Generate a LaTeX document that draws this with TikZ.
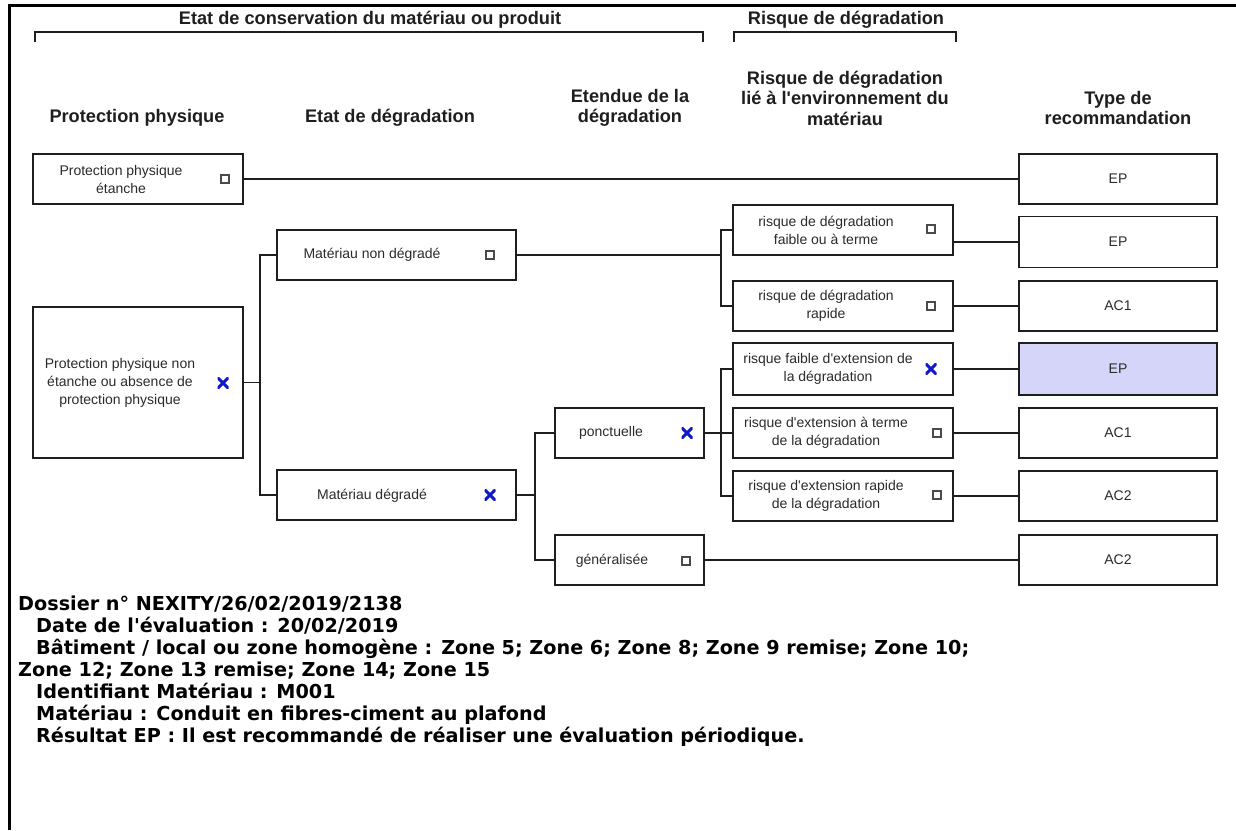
\documentclass[tikz,border=0pt]{standalone}
\usepackage{fontspec}
\setmainfont{Liberation Sans}[Ligatures=TeXOff]
\newfontfamily\infofont{DejaVu Sans}
\usepackage{tikz}
\definecolor{ink}{HTML}{1E1E1E}
\definecolor{txt}{HTML}{2A2A2A}
\definecolor{tick}{HTML}{1018C8}
\definecolor{pick}{HTML}{D5D5FA}
\definecolor{chkgray}{HTML}{4A4A4A}
\newcommand{\ap}{\char39\relax}
\tikzset{
  head/.style={text=ink, font=\fontsize{18.2}{20.5}\selectfont\bfseries, align=center},
  lab/.style={text=txt, font=\fontsize{14}{18}\selectfont, align=center},
  box/.style={draw=ink, line width=1.8pt, minimum height=50pt, inner sep=0pt, text=txt, font=\fontsize{14}{18}\selectfont},
  wire/.style={draw=ink, line width=1.8pt},
  brack/.style={draw=ink, line width=1.8pt},
  chk/.style={draw=chkgray, line width=1.1pt, minimum size=8pt, inner sep=0pt},
  chkx/.style={minimum size=11pt, inner sep=0pt,
    path picture={\draw[tick, line width=3pt] (path picture bounding box.south west) -- (path picture bounding box.north east)
      (path picture bounding box.north west) -- (path picture bounding box.south east);}},
  info/.style={text=black, font=\infofont\bfseries\fontsize{19.2}{22}\selectfont, anchor=base west, inner sep=0pt}
}

\begin{document}
\begin{tikzpicture}[x=1pt, y=-1pt]
\useasboundingbox (0,0) rectangle (1236,830);
% frame
\draw[line width=3pt, draw=black] (9.5,830) -- (9.5,5) -- (1236,5);

% top headers
\node[head] (hcons) at (370,20) {Etat de conservation du matériau ou produit};
\draw[brack] (35,42) -- (35,32) -- (703,32) -- (703,42);
\node[head] (hrisk) at (846,20) {Risque de dégradation};
\draw[brack] (734,42) -- (734,32) -- (956,32) -- (956,42);

% column headers
\node[head] (hprot) at (137,118) {Protection physique};
\node[head] (hetat) at (390,118) {Etat de dégradation};
\node[head] (hext) at (630,108) {Etendue de la\\dégradation};
\node[head] (henv) at (845,98) {Risque de dégradation\\lié à l\ap environnement du\\matériau};
\node[head] (htype) at (1118,108) {Type de\\recommandation};

% protection physique
\node[box, minimum width=210pt] (pe) at (138,179) {};
\node[lab] (tpe) at (121,179) {Protection physique\\étanche};
\node[chk] (cpe) at (225,179) {};
\node[box, minimum width=210pt, minimum height=151pt] (pn) at (138,382.5) {};
\node[lab] (tpn) at (120,383) {Protection physique non\\étanche ou absence de\\protection physique};
\node[chkx] (cpn) at (223,383) {};

% etat de degradation
\node[box, minimum width=239pt] (mnd) at (396.5,255) {};
\node[lab] (tmnd) at (372,255) {Matériau non dégradé};
\node[chk] (cmnd) at (490,255) {};
\node[box, minimum width=239pt] (md) at (396.5,495) {};
\node[lab] (tmd) at (372,496) {Matériau dégradé};
\node[chkx] (cmd) at (490,495) {};

% etendue
\node[box, minimum width=149pt] (ponc) at (629.5,433) {};
\node[lab] (tponc) at (611,433) {ponctuelle};
\node[chkx] (cponc) at (687,433) {};
\node[box, minimum width=149pt] (gen) at (629.5,560) {};
\node[lab] (tgen) at (612,561) {généralisée};
\node[chk] (cgen) at (686,561) {};

% risque lie a l'environnement
\node[box, minimum width=220pt] (r1) at (843,230) {};
\node[lab] (tr1) at (826,230) {risque de dégradation\\faible ou à terme};
\node[chk] (cr1) at (931,229) {};
\node[box, minimum width=220pt] (r2) at (843,306) {};
\node[lab] (tr2) at (826,306) {risque de dégradation\\rapide};
\node[chk] (cr2) at (931,306) {};
\node[box, minimum width=220pt, minimum height=52pt] (r3) at (843,369) {};
\node[lab] (tr3) at (828,369) {risque faible d\ap extension de\\la dégradation};
\node[chkx] (cr3) at (931,369) {};
\node[box, minimum width=220pt] (r4) at (843,433) {};
\node[lab] (tr4) at (826,433) {risque d\ap extension à terme\\de la dégradation};
\node[chk] (cr4) at (937,433) {};
\node[box, minimum width=220pt] (r5) at (843,496) {};
\node[lab] (tr5) at (826,496) {risque d\ap extension rapide\\de la dégradation};
\node[chk] (cr5) at (937,495) {};

% type de recommandation
\node[box, minimum width=198pt] (e1) at (1118,179) {EP};
\node[box, minimum width=198pt, minimum height=51pt] (e2) at (1118,242) {EP};
\node[box, minimum width=198pt] (e3) at (1118,306) {AC1};
\node[box, minimum width=198pt, minimum height=52pt, fill=pick] (e4) at (1118,369) {EP};
\node[box, minimum width=198pt] (e5) at (1118,433) {AC1};
\node[box, minimum width=198pt] (e6) at (1118,496) {AC2};
\node[box, minimum width=198pt] (e7) at (1118,560) {AC2};

% connections
\coordinate (j1) at (260,382.5);
\coordinate (j2) at (721,255);
\coordinate (j3) at (535,495);
\coordinate (j4) at (721,433);
\draw[wire] (pe.east) -- (e1.west);
\draw[wire] (pn.east) -- (j1);
\draw[wire] (mnd.west) -| (j1) |- (md.west);
\draw[wire] (mnd.east) -- (j2);
\draw[wire] (r1.west) -| (j2) |- (r2.west);
\draw[wire] (md.east) -- (j3);
\draw[wire] (ponc.west) -| (j3) |- (gen.west);
\draw[wire] (ponc.east) -- (r4.west);
\draw[wire] (r3.west) -| (j4) |- (r5.west);
\draw[wire] (e2.west) -- (e2.west -| r1.east);
\draw[wire] (r2.east) -- (e3.west);
\draw[wire] (r3.east) -- (e4.west);
\draw[wire] (r4.east) -- (e5.west);
\draw[wire] (r5.east) -- (e6.west);
\draw[wire] (gen.east) -- (e7.west);

% dossier
\node[info] (l1) at (18,610) {Dossier n° NEXITY/26/02/2019/2138};
\node[info] (l2) at (36,632) {Date de l'évaluation : 20/02/2019};
\node[info] (l3) at (36,654) {Bâtiment / local ou zone homogène : Zone 5; Zone 6; Zone 8; Zone 9 remise; Zone 10;};
\node[info] (l4) at (18,676) {Zone 12; Zone 13 remise; Zone 14; Zone 15};
\node[info] (l5) at (36,698) {Identifiant Matériau : M001};
\node[info] (l6) at (36,720) {Matériau : Conduit en fibres-ciment au plafond};
\node[info] (l7) at (36,742) {Résultat EP : Il est recommandé de réaliser une évaluation périodique.};
\end{tikzpicture}
\end{document}
